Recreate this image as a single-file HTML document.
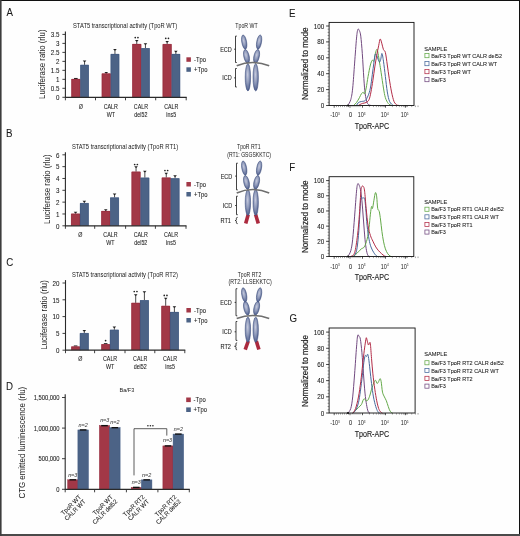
<!DOCTYPE html><html><head><meta charset="utf-8"><style>html,body{margin:0;padding:0;background:#fff}body{width:520px;height:536px;overflow:hidden;position:relative}svg{position:absolute;left:0;top:0;will-change:transform}text{font-family:"Liberation Sans",sans-serif}</style></head><body>
<svg width="520" height="536" viewBox="0 0 520 536">
<defs>
<radialGradient id="rg" cx="0.45" cy="0.4" r="0.62"><stop offset="0" stop-color="#c6cadd"/><stop offset="0.5" stop-color="#8f9aba"/><stop offset="1" stop-color="#4a5a8a"/></radialGradient>
</defs>
<rect x="0" y="0" width="520" height="536" fill="#fefefe"/>
<text transform="translate(6.60 16.20) scale(0.86 1)" x="0" y="0" font-size="11.3" text-anchor="start" fill="#1a1a1a" stroke="#1a1a1a" stroke-width="0.07" >A</text>
<text transform="translate(6.00 136.90) scale(0.86 1)" x="0" y="0" font-size="11.3" text-anchor="start" fill="#1a1a1a" stroke="#1a1a1a" stroke-width="0.07" >B</text>
<text transform="translate(6.20 265.50) scale(0.86 1)" x="0" y="0" font-size="11.3" text-anchor="start" fill="#1a1a1a" stroke="#1a1a1a" stroke-width="0.07" >C</text>
<text transform="translate(6.00 389.70) scale(0.86 1)" x="0" y="0" font-size="11.3" text-anchor="start" fill="#1a1a1a" stroke="#1a1a1a" stroke-width="0.07" >D</text>
<text transform="translate(289.10 16.50) scale(0.86 1)" x="0" y="0" font-size="11.3" text-anchor="start" fill="#1a1a1a" stroke="#1a1a1a" stroke-width="0.07" >E</text>
<text transform="translate(289.30 171.00) scale(0.86 1)" x="0" y="0" font-size="11.3" text-anchor="start" fill="#1a1a1a" stroke="#1a1a1a" stroke-width="0.07" >F</text>
<text transform="translate(289.50 322.30) scale(0.86 1)" x="0" y="0" font-size="11.3" text-anchor="start" fill="#1a1a1a" stroke="#1a1a1a" stroke-width="0.07" >G</text>
<line x1="65.40" y1="31.50" x2="65.40" y2="97.80" stroke="#2a2a2a" stroke-width="1.1"/>
<line x1="62.40" y1="97.30" x2="65.40" y2="97.30" stroke="#2a2a2a" stroke-width="0.9"/>
<text transform="translate(59.40 100.05) scale(0.8 1)" x="0" y="0" font-size="7.8" text-anchor="end" fill="#1a1a1a" stroke="#1a1a1a" stroke-width="0.07" >0</text>
<line x1="62.40" y1="88.31" x2="65.40" y2="88.31" stroke="#2a2a2a" stroke-width="0.9"/>
<text transform="translate(59.40 91.06) scale(0.8 1)" x="0" y="0" font-size="7.8" text-anchor="end" fill="#1a1a1a" stroke="#1a1a1a" stroke-width="0.07" >0.5</text>
<line x1="62.40" y1="79.33" x2="65.40" y2="79.33" stroke="#2a2a2a" stroke-width="0.9"/>
<text transform="translate(59.40 82.08) scale(0.8 1)" x="0" y="0" font-size="7.8" text-anchor="end" fill="#1a1a1a" stroke="#1a1a1a" stroke-width="0.07" >1</text>
<line x1="62.40" y1="70.34" x2="65.40" y2="70.34" stroke="#2a2a2a" stroke-width="0.9"/>
<text transform="translate(59.40 73.09) scale(0.8 1)" x="0" y="0" font-size="7.8" text-anchor="end" fill="#1a1a1a" stroke="#1a1a1a" stroke-width="0.07" >1.5</text>
<line x1="62.40" y1="61.36" x2="65.40" y2="61.36" stroke="#2a2a2a" stroke-width="0.9"/>
<text transform="translate(59.40 64.11) scale(0.8 1)" x="0" y="0" font-size="7.8" text-anchor="end" fill="#1a1a1a" stroke="#1a1a1a" stroke-width="0.07" >2</text>
<line x1="62.40" y1="52.38" x2="65.40" y2="52.38" stroke="#2a2a2a" stroke-width="0.9"/>
<text transform="translate(59.40 55.12) scale(0.8 1)" x="0" y="0" font-size="7.8" text-anchor="end" fill="#1a1a1a" stroke="#1a1a1a" stroke-width="0.07" >2.5</text>
<line x1="62.40" y1="43.39" x2="65.40" y2="43.39" stroke="#2a2a2a" stroke-width="0.9"/>
<text transform="translate(59.40 46.14) scale(0.8 1)" x="0" y="0" font-size="7.8" text-anchor="end" fill="#1a1a1a" stroke="#1a1a1a" stroke-width="0.07" >3</text>
<line x1="62.40" y1="34.41" x2="65.40" y2="34.41" stroke="#2a2a2a" stroke-width="0.9"/>
<text transform="translate(59.40 37.16) scale(0.8 1)" x="0" y="0" font-size="7.8" text-anchor="end" fill="#1a1a1a" stroke="#1a1a1a" stroke-width="0.07" >3.5</text>
<line x1="74.05" y1="78.50" x2="77.65" y2="78.50" stroke="#222" stroke-width="1.1"/>
<line x1="84.55" y1="64.90" x2="84.55" y2="61.00" stroke="#333" stroke-width="0.9"/>
<path d="M82.75,60.40 H86.35 L85.05,61.90 H84.05 Z" fill="#222"/>
<rect x="71.40" y="79.00" width="8.90" height="18.30" fill="#A23847"/>
<rect x="80.30" y="64.90" width="8.50" height="32.40" fill="#4C6386"/>
<path d="M71.70,97.30 V79.30 H80.00 V97.30" fill="none" stroke="#96283b" stroke-width="0.6"/>
<path d="M80.60,97.30 V65.20 H88.50 V97.30" fill="none" stroke="#3e5781" stroke-width="0.6"/>
<line x1="106.25" y1="73.50" x2="106.25" y2="72.50" stroke="#333" stroke-width="0.9"/>
<path d="M104.45,71.90 H108.05 L106.75,73.40 H105.75 Z" fill="#222"/>
<line x1="114.95" y1="54.00" x2="114.95" y2="49.70" stroke="#333" stroke-width="0.9"/>
<path d="M113.15,49.10 H116.75 L115.45,50.60 H114.45 Z" fill="#222"/>
<rect x="101.80" y="73.50" width="8.90" height="23.80" fill="#A23847"/>
<rect x="110.70" y="54.00" width="8.50" height="43.30" fill="#4C6386"/>
<path d="M102.10,97.30 V73.80 H110.40 V97.30" fill="none" stroke="#96283b" stroke-width="0.6"/>
<path d="M111.00,97.30 V54.30 H118.90 V97.30" fill="none" stroke="#3e5781" stroke-width="0.6"/>
<line x1="136.75" y1="44.00" x2="136.75" y2="40.50" stroke="#333" stroke-width="0.9"/>
<path d="M134.95,39.90 H138.55 L137.25,41.40 H136.25 Z" fill="#222"/>
<line x1="145.45" y1="48.20" x2="145.45" y2="43.80" stroke="#333" stroke-width="0.9"/>
<path d="M143.65,43.20 H147.25 L145.95,44.70 H144.95 Z" fill="#222"/>
<rect x="132.30" y="44.00" width="8.90" height="53.30" fill="#A23847"/>
<rect x="141.20" y="48.20" width="8.50" height="49.10" fill="#4C6386"/>
<path d="M132.60,97.30 V44.30 H140.90 V97.30" fill="none" stroke="#96283b" stroke-width="0.6"/>
<path d="M141.50,97.30 V48.50 H149.40 V97.30" fill="none" stroke="#3e5781" stroke-width="0.6"/>
<line x1="167.15" y1="44.10" x2="167.15" y2="41.60" stroke="#333" stroke-width="0.9"/>
<path d="M165.35,41.00 H168.95 L167.65,42.50 H166.65 Z" fill="#222"/>
<line x1="175.85" y1="54.00" x2="175.85" y2="51.40" stroke="#333" stroke-width="0.9"/>
<path d="M174.05,50.80 H177.65 L176.35,52.30 H175.35 Z" fill="#222"/>
<rect x="162.70" y="44.10" width="8.90" height="53.20" fill="#A23847"/>
<rect x="171.60" y="54.00" width="8.50" height="43.30" fill="#4C6386"/>
<path d="M163.00,97.30 V44.40 H171.30 V97.30" fill="none" stroke="#96283b" stroke-width="0.6"/>
<path d="M171.90,97.30 V54.30 H179.80 V97.30" fill="none" stroke="#3e5781" stroke-width="0.6"/>
<line x1="65.40" y1="97.30" x2="186.70" y2="97.30" stroke="#2a2a2a" stroke-width="1.2"/>
<line x1="65.40" y1="97.30" x2="65.40" y2="100.30" stroke="#2a2a2a" stroke-width="0.9"/>
<line x1="95.50" y1="97.30" x2="95.50" y2="100.30" stroke="#2a2a2a" stroke-width="0.9"/>
<line x1="125.50" y1="97.30" x2="125.50" y2="100.30" stroke="#2a2a2a" stroke-width="0.9"/>
<line x1="155.70" y1="97.30" x2="155.70" y2="100.30" stroke="#2a2a2a" stroke-width="0.9"/>
<line x1="186.20" y1="97.30" x2="186.20" y2="100.30" stroke="#2a2a2a" stroke-width="0.9"/>
<circle cx="135.25" cy="37.60" r="0.85" fill="#222"/>
<circle cx="137.95" cy="37.60" r="0.85" fill="#222"/>
<circle cx="165.75" cy="38.30" r="0.85" fill="#222"/>
<circle cx="168.45" cy="38.30" r="0.85" fill="#222"/>
<text transform="translate(80.75 108.80) scale(0.81 1)" x="0" y="0" font-size="6.6" text-anchor="middle" fill="#1a1a1a" stroke="#1a1a1a" stroke-width="0.07" >&#216;</text>
<text transform="translate(110.80 108.80) scale(0.81 1)" x="0" y="0" font-size="6.6" text-anchor="middle" fill="#1a1a1a" stroke="#1a1a1a" stroke-width="0.07" >CALR</text>
<text transform="translate(110.80 116.80) scale(0.81 1)" x="0" y="0" font-size="6.6" text-anchor="middle" fill="#1a1a1a" stroke="#1a1a1a" stroke-width="0.07" >WT</text>
<text transform="translate(140.90 108.80) scale(0.81 1)" x="0" y="0" font-size="6.6" text-anchor="middle" fill="#1a1a1a" stroke="#1a1a1a" stroke-width="0.07" >CALR</text>
<text transform="translate(140.90 116.80) scale(0.81 1)" x="0" y="0" font-size="6.6" text-anchor="middle" fill="#1a1a1a" stroke="#1a1a1a" stroke-width="0.07" >del52</text>
<text transform="translate(171.25 108.80) scale(0.81 1)" x="0" y="0" font-size="6.6" text-anchor="middle" fill="#1a1a1a" stroke="#1a1a1a" stroke-width="0.07" >CALR</text>
<text transform="translate(171.25 116.80) scale(0.81 1)" x="0" y="0" font-size="6.6" text-anchor="middle" fill="#1a1a1a" stroke="#1a1a1a" stroke-width="0.07" >ins5</text>
<text x="73.00" y="27.60" font-size="6.3" text-anchor="start" fill="#1a1a1a" textLength="104.3" lengthAdjust="spacingAndGlyphs" >STAT5 transcriptional activity (TpoR WT)</text>
<g transform="translate(45.20,64.20) rotate(-90)"><text x="0" y="0" font-size="8.6" fill="#222" text-anchor="middle" textLength="69.4" lengthAdjust="spacingAndGlyphs">Luciferase ratio (rlu)</text></g>
<rect x="186.40" y="57.30" width="4.50" height="4.50" fill="#A23847"/>
<text transform="translate(194.00 61.90) scale(0.93 1)" x="0" y="0" font-size="6.3" text-anchor="start" fill="#1a1a1a" stroke="#1a1a1a" stroke-width="0.07" >-Tpo</text>
<rect x="186.40" y="67.30" width="4.50" height="4.50" fill="#4C6386"/>
<text transform="translate(194.00 71.90) scale(0.93 1)" x="0" y="0" font-size="6.3" text-anchor="start" fill="#1a1a1a" stroke="#1a1a1a" stroke-width="0.07" >+Tpo</text>
<line x1="65.40" y1="152.30" x2="65.40" y2="226.30" stroke="#2a2a2a" stroke-width="1.1"/>
<line x1="62.40" y1="225.80" x2="65.40" y2="225.80" stroke="#2a2a2a" stroke-width="0.9"/>
<text transform="translate(59.40 228.55) scale(0.8 1)" x="0" y="0" font-size="7.8" text-anchor="end" fill="#1a1a1a" stroke="#1a1a1a" stroke-width="0.07" >0</text>
<line x1="62.40" y1="213.97" x2="65.40" y2="213.97" stroke="#2a2a2a" stroke-width="0.9"/>
<text transform="translate(59.40 216.72) scale(0.8 1)" x="0" y="0" font-size="7.8" text-anchor="end" fill="#1a1a1a" stroke="#1a1a1a" stroke-width="0.07" >1</text>
<line x1="62.40" y1="202.14" x2="65.40" y2="202.14" stroke="#2a2a2a" stroke-width="0.9"/>
<text transform="translate(59.40 204.89) scale(0.8 1)" x="0" y="0" font-size="7.8" text-anchor="end" fill="#1a1a1a" stroke="#1a1a1a" stroke-width="0.07" >2</text>
<line x1="62.40" y1="190.31" x2="65.40" y2="190.31" stroke="#2a2a2a" stroke-width="0.9"/>
<text transform="translate(59.40 193.06) scale(0.8 1)" x="0" y="0" font-size="7.8" text-anchor="end" fill="#1a1a1a" stroke="#1a1a1a" stroke-width="0.07" >3</text>
<line x1="62.40" y1="178.48" x2="65.40" y2="178.48" stroke="#2a2a2a" stroke-width="0.9"/>
<text transform="translate(59.40 181.23) scale(0.8 1)" x="0" y="0" font-size="7.8" text-anchor="end" fill="#1a1a1a" stroke="#1a1a1a" stroke-width="0.07" >4</text>
<line x1="62.40" y1="166.65" x2="65.40" y2="166.65" stroke="#2a2a2a" stroke-width="0.9"/>
<text transform="translate(59.40 169.40) scale(0.8 1)" x="0" y="0" font-size="7.8" text-anchor="end" fill="#1a1a1a" stroke="#1a1a1a" stroke-width="0.07" >5</text>
<line x1="62.40" y1="154.82" x2="65.40" y2="154.82" stroke="#2a2a2a" stroke-width="0.9"/>
<text transform="translate(59.40 157.57) scale(0.8 1)" x="0" y="0" font-size="7.8" text-anchor="end" fill="#1a1a1a" stroke="#1a1a1a" stroke-width="0.07" >6</text>
<line x1="75.55" y1="213.70" x2="75.55" y2="212.40" stroke="#333" stroke-width="0.9"/>
<path d="M73.75,211.80 H77.35 L76.05,213.30 H75.05 Z" fill="#222"/>
<line x1="84.35" y1="203.10" x2="84.35" y2="201.30" stroke="#333" stroke-width="0.9"/>
<path d="M82.55,200.70 H86.15 L84.85,202.20 H83.85 Z" fill="#222"/>
<rect x="71.10" y="213.70" width="8.90" height="12.10" fill="#A23847"/>
<rect x="80.00" y="203.10" width="8.70" height="22.70" fill="#4C6386"/>
<path d="M71.40,225.80 V214.00 H79.70 V225.80" fill="none" stroke="#96283b" stroke-width="0.6"/>
<path d="M80.30,225.80 V203.40 H88.40 V225.80" fill="none" stroke="#3e5781" stroke-width="0.6"/>
<line x1="105.75" y1="211.00" x2="105.75" y2="209.80" stroke="#333" stroke-width="0.9"/>
<path d="M103.95,209.20 H107.55 L106.25,210.70 H105.25 Z" fill="#222"/>
<line x1="114.55" y1="197.50" x2="114.55" y2="194.00" stroke="#333" stroke-width="0.9"/>
<path d="M112.75,193.40 H116.35 L115.05,194.90 H114.05 Z" fill="#222"/>
<rect x="101.30" y="211.00" width="8.90" height="14.80" fill="#A23847"/>
<rect x="110.20" y="197.50" width="8.70" height="28.30" fill="#4C6386"/>
<path d="M101.60,225.80 V211.30 H109.90 V225.80" fill="none" stroke="#96283b" stroke-width="0.6"/>
<path d="M110.50,225.80 V197.80 H118.60 V225.80" fill="none" stroke="#3e5781" stroke-width="0.6"/>
<line x1="136.05" y1="171.70" x2="136.05" y2="166.90" stroke="#333" stroke-width="0.9"/>
<path d="M134.25,166.30 H137.85 L136.55,167.80 H135.55 Z" fill="#222"/>
<line x1="144.85" y1="177.70" x2="144.85" y2="171.30" stroke="#333" stroke-width="0.9"/>
<path d="M143.05,170.70 H146.65 L145.35,172.20 H144.35 Z" fill="#222"/>
<rect x="131.60" y="171.70" width="8.90" height="54.10" fill="#A23847"/>
<rect x="140.50" y="177.70" width="8.70" height="48.10" fill="#4C6386"/>
<path d="M131.90,225.80 V172.00 H140.20 V225.80" fill="none" stroke="#96283b" stroke-width="0.6"/>
<path d="M140.80,225.80 V178.00 H148.90 V225.80" fill="none" stroke="#3e5781" stroke-width="0.6"/>
<line x1="166.25" y1="177.60" x2="166.25" y2="173.40" stroke="#333" stroke-width="0.9"/>
<path d="M164.45,172.80 H168.05 L166.75,174.30 H165.75 Z" fill="#222"/>
<line x1="175.05" y1="178.30" x2="175.05" y2="175.90" stroke="#333" stroke-width="0.9"/>
<path d="M173.25,175.30 H176.85 L175.55,176.80 H174.55 Z" fill="#222"/>
<rect x="161.80" y="177.60" width="8.90" height="48.20" fill="#A23847"/>
<rect x="170.70" y="178.30" width="8.70" height="47.50" fill="#4C6386"/>
<path d="M162.10,225.80 V177.90 H170.40 V225.80" fill="none" stroke="#96283b" stroke-width="0.6"/>
<path d="M171.00,225.80 V178.60 H179.10 V225.80" fill="none" stroke="#3e5781" stroke-width="0.6"/>
<line x1="65.40" y1="225.80" x2="186.50" y2="225.80" stroke="#2a2a2a" stroke-width="1.2"/>
<line x1="65.40" y1="225.80" x2="65.40" y2="228.80" stroke="#2a2a2a" stroke-width="0.9"/>
<line x1="94.70" y1="225.80" x2="94.70" y2="228.80" stroke="#2a2a2a" stroke-width="0.9"/>
<line x1="125.60" y1="225.80" x2="125.60" y2="228.80" stroke="#2a2a2a" stroke-width="0.9"/>
<line x1="155.40" y1="225.80" x2="155.40" y2="228.80" stroke="#2a2a2a" stroke-width="0.9"/>
<line x1="186.00" y1="225.80" x2="186.00" y2="228.80" stroke="#2a2a2a" stroke-width="0.9"/>
<circle cx="134.65" cy="164.50" r="0.85" fill="#222"/>
<circle cx="137.35" cy="164.50" r="0.85" fill="#222"/>
<circle cx="164.95" cy="170.50" r="0.85" fill="#222"/>
<circle cx="167.65" cy="170.50" r="0.85" fill="#222"/>
<text transform="translate(80.35 237.00) scale(0.81 1)" x="0" y="0" font-size="6.6" text-anchor="middle" fill="#1a1a1a" stroke="#1a1a1a" stroke-width="0.07" >&#216;</text>
<text transform="translate(110.45 237.00) scale(0.81 1)" x="0" y="0" font-size="6.6" text-anchor="middle" fill="#1a1a1a" stroke="#1a1a1a" stroke-width="0.07" >CALR</text>
<text transform="translate(110.45 245.00) scale(0.81 1)" x="0" y="0" font-size="6.6" text-anchor="middle" fill="#1a1a1a" stroke="#1a1a1a" stroke-width="0.07" >WT</text>
<text transform="translate(140.80 237.00) scale(0.81 1)" x="0" y="0" font-size="6.6" text-anchor="middle" fill="#1a1a1a" stroke="#1a1a1a" stroke-width="0.07" >CALR</text>
<text transform="translate(140.80 245.00) scale(0.81 1)" x="0" y="0" font-size="6.6" text-anchor="middle" fill="#1a1a1a" stroke="#1a1a1a" stroke-width="0.07" >del52</text>
<text transform="translate(171.00 237.00) scale(0.81 1)" x="0" y="0" font-size="6.6" text-anchor="middle" fill="#1a1a1a" stroke="#1a1a1a" stroke-width="0.07" >CALR</text>
<text transform="translate(171.00 245.00) scale(0.81 1)" x="0" y="0" font-size="6.6" text-anchor="middle" fill="#1a1a1a" stroke="#1a1a1a" stroke-width="0.07" >ins5</text>
<text x="71.90" y="148.50" font-size="6.3" text-anchor="start" fill="#1a1a1a" textLength="106.2" lengthAdjust="spacingAndGlyphs" >STAT5 transcriptional activity (TpoR RT1)</text>
<g transform="translate(50.40,189.20) rotate(-90)"><text x="0" y="0" font-size="8.6" fill="#222" text-anchor="middle" textLength="69.4" lengthAdjust="spacingAndGlyphs">Luciferase ratio (rlu)</text></g>
<rect x="186.40" y="182.00" width="4.50" height="4.50" fill="#A23847"/>
<text transform="translate(194.00 186.60) scale(0.93 1)" x="0" y="0" font-size="6.3" text-anchor="start" fill="#1a1a1a" stroke="#1a1a1a" stroke-width="0.07" >-Tpo</text>
<rect x="186.40" y="192.00" width="4.50" height="4.50" fill="#4C6386"/>
<text transform="translate(194.00 196.60) scale(0.93 1)" x="0" y="0" font-size="6.3" text-anchor="start" fill="#1a1a1a" stroke="#1a1a1a" stroke-width="0.07" >+Tpo</text>
<line x1="65.50" y1="280.10" x2="65.50" y2="350.70" stroke="#2a2a2a" stroke-width="1.1"/>
<line x1="62.50" y1="350.20" x2="65.50" y2="350.20" stroke="#2a2a2a" stroke-width="0.9"/>
<text transform="translate(59.50 352.95) scale(0.8 1)" x="0" y="0" font-size="7.8" text-anchor="end" fill="#1a1a1a" stroke="#1a1a1a" stroke-width="0.07" >0</text>
<line x1="62.50" y1="333.40" x2="65.50" y2="333.40" stroke="#2a2a2a" stroke-width="0.9"/>
<text transform="translate(59.50 336.15) scale(0.8 1)" x="0" y="0" font-size="7.8" text-anchor="end" fill="#1a1a1a" stroke="#1a1a1a" stroke-width="0.07" >5</text>
<line x1="62.50" y1="316.60" x2="65.50" y2="316.60" stroke="#2a2a2a" stroke-width="0.9"/>
<text transform="translate(59.50 319.35) scale(0.8 1)" x="0" y="0" font-size="7.8" text-anchor="end" fill="#1a1a1a" stroke="#1a1a1a" stroke-width="0.07" >10</text>
<line x1="62.50" y1="299.80" x2="65.50" y2="299.80" stroke="#2a2a2a" stroke-width="0.9"/>
<text transform="translate(59.50 302.55) scale(0.8 1)" x="0" y="0" font-size="7.8" text-anchor="end" fill="#1a1a1a" stroke="#1a1a1a" stroke-width="0.07" >15</text>
<line x1="62.50" y1="283.00" x2="65.50" y2="283.00" stroke="#2a2a2a" stroke-width="0.9"/>
<text transform="translate(59.50 285.75) scale(0.8 1)" x="0" y="0" font-size="7.8" text-anchor="end" fill="#1a1a1a" stroke="#1a1a1a" stroke-width="0.07" >20</text>
<line x1="73.80" y1="346.00" x2="77.40" y2="346.00" stroke="#222" stroke-width="1.1"/>
<line x1="84.30" y1="333.10" x2="84.30" y2="330.50" stroke="#333" stroke-width="0.9"/>
<path d="M82.50,329.90 H86.10 L84.80,331.40 H83.80 Z" fill="#222"/>
<rect x="71.30" y="346.50" width="8.60" height="3.70" fill="#A23847"/>
<rect x="79.90" y="333.10" width="8.80" height="17.10" fill="#4C6386"/>
<path d="M71.60,350.20 V346.80 H79.60 V350.20" fill="none" stroke="#96283b" stroke-width="0.6"/>
<path d="M80.20,350.20 V333.40 H88.40 V350.20" fill="none" stroke="#3e5781" stroke-width="0.6"/>
<line x1="103.85" y1="343.70" x2="107.45" y2="343.70" stroke="#222" stroke-width="1.1"/>
<line x1="114.35" y1="329.80" x2="114.35" y2="327.00" stroke="#333" stroke-width="0.9"/>
<path d="M112.55,326.40 H116.15 L114.85,327.90 H113.85 Z" fill="#222"/>
<rect x="101.35" y="344.20" width="8.60" height="6.00" fill="#A23847"/>
<rect x="109.95" y="329.80" width="8.80" height="20.40" fill="#4C6386"/>
<path d="M101.65,350.20 V344.50 H109.65 V350.20" fill="none" stroke="#96283b" stroke-width="0.6"/>
<path d="M110.25,350.20 V330.10 H118.45 V350.20" fill="none" stroke="#3e5781" stroke-width="0.6"/>
<line x1="135.70" y1="302.90" x2="135.70" y2="294.80" stroke="#333" stroke-width="0.9"/>
<path d="M133.90,294.20 H137.50 L136.20,295.70 H135.20 Z" fill="#222"/>
<line x1="144.40" y1="300.20" x2="144.40" y2="291.90" stroke="#333" stroke-width="0.9"/>
<path d="M142.60,291.30 H146.20 L144.90,292.80 H143.90 Z" fill="#222"/>
<rect x="131.40" y="302.90" width="8.60" height="47.30" fill="#A23847"/>
<rect x="140.00" y="300.20" width="8.80" height="50.00" fill="#4C6386"/>
<path d="M131.70,350.20 V303.20 H139.70 V350.20" fill="none" stroke="#96283b" stroke-width="0.6"/>
<path d="M140.30,350.20 V300.50 H148.50 V350.20" fill="none" stroke="#3e5781" stroke-width="0.6"/>
<line x1="165.70" y1="305.90" x2="165.70" y2="298.30" stroke="#333" stroke-width="0.9"/>
<path d="M163.90,297.70 H167.50 L166.20,299.20 H165.20 Z" fill="#222"/>
<line x1="174.40" y1="312.00" x2="174.40" y2="306.80" stroke="#333" stroke-width="0.9"/>
<path d="M172.60,306.20 H176.20 L174.90,307.70 H173.90 Z" fill="#222"/>
<rect x="161.40" y="305.90" width="8.60" height="44.30" fill="#A23847"/>
<rect x="170.00" y="312.00" width="8.80" height="38.20" fill="#4C6386"/>
<path d="M161.70,350.20 V306.20 H169.70 V350.20" fill="none" stroke="#96283b" stroke-width="0.6"/>
<path d="M170.30,350.20 V312.30 H178.50 V350.20" fill="none" stroke="#3e5781" stroke-width="0.6"/>
<line x1="65.50" y1="350.20" x2="185.30" y2="350.20" stroke="#2a2a2a" stroke-width="1.2"/>
<line x1="65.50" y1="350.20" x2="65.50" y2="353.20" stroke="#2a2a2a" stroke-width="0.9"/>
<line x1="94.60" y1="350.20" x2="94.60" y2="353.20" stroke="#2a2a2a" stroke-width="0.9"/>
<line x1="125.00" y1="350.20" x2="125.00" y2="353.20" stroke="#2a2a2a" stroke-width="0.9"/>
<line x1="154.80" y1="350.20" x2="154.80" y2="353.20" stroke="#2a2a2a" stroke-width="0.9"/>
<line x1="184.80" y1="350.20" x2="184.80" y2="353.20" stroke="#2a2a2a" stroke-width="0.9"/>
<circle cx="105.60" cy="340.60" r="0.85" fill="#222"/>
<circle cx="134.25" cy="291.50" r="0.85" fill="#222"/>
<circle cx="136.95" cy="291.50" r="0.85" fill="#222"/>
<circle cx="164.25" cy="295.40" r="0.85" fill="#222"/>
<circle cx="166.95" cy="295.40" r="0.85" fill="#222"/>
<text transform="translate(80.35 361.20) scale(0.81 1)" x="0" y="0" font-size="6.6" text-anchor="middle" fill="#1a1a1a" stroke="#1a1a1a" stroke-width="0.07" >&#216;</text>
<text transform="translate(110.10 361.20) scale(0.81 1)" x="0" y="0" font-size="6.6" text-anchor="middle" fill="#1a1a1a" stroke="#1a1a1a" stroke-width="0.07" >CALR</text>
<text transform="translate(110.10 369.20) scale(0.81 1)" x="0" y="0" font-size="6.6" text-anchor="middle" fill="#1a1a1a" stroke="#1a1a1a" stroke-width="0.07" >WT</text>
<text transform="translate(140.20 361.20) scale(0.81 1)" x="0" y="0" font-size="6.6" text-anchor="middle" fill="#1a1a1a" stroke="#1a1a1a" stroke-width="0.07" >CALR</text>
<text transform="translate(140.20 369.20) scale(0.81 1)" x="0" y="0" font-size="6.6" text-anchor="middle" fill="#1a1a1a" stroke="#1a1a1a" stroke-width="0.07" >del52</text>
<text transform="translate(170.10 361.20) scale(0.81 1)" x="0" y="0" font-size="6.6" text-anchor="middle" fill="#1a1a1a" stroke="#1a1a1a" stroke-width="0.07" >CALR</text>
<text transform="translate(170.10 369.20) scale(0.81 1)" x="0" y="0" font-size="6.6" text-anchor="middle" fill="#1a1a1a" stroke="#1a1a1a" stroke-width="0.07" >ins5</text>
<text x="71.90" y="276.90" font-size="6.3" text-anchor="start" fill="#1a1a1a" textLength="106" lengthAdjust="spacingAndGlyphs" >STAT5 transcriptional activity (TpoR RT2)</text>
<g transform="translate(47.00,314.90) rotate(-90)"><text x="0" y="0" font-size="8.6" fill="#222" text-anchor="middle" textLength="69.4" lengthAdjust="spacingAndGlyphs">Luciferase ratio (rlu)</text></g>
<rect x="186.40" y="308.00" width="4.50" height="4.50" fill="#A23847"/>
<text transform="translate(194.00 312.60) scale(0.93 1)" x="0" y="0" font-size="6.3" text-anchor="start" fill="#1a1a1a" stroke="#1a1a1a" stroke-width="0.07" >-Tpo</text>
<rect x="186.40" y="318.00" width="4.50" height="4.50" fill="#4C6386"/>
<text transform="translate(194.00 322.60) scale(0.93 1)" x="0" y="0" font-size="6.3" text-anchor="start" fill="#1a1a1a" stroke="#1a1a1a" stroke-width="0.07" >+Tpo</text>
<text x="246.50" y="27.90" font-size="6.4" text-anchor="middle" fill="#1a1a1a" textLength="22.5" lengthAdjust="spacingAndGlyphs" >TpoR WT</text>
<ellipse cx="247.90" cy="77.30" rx="2.7" ry="13.6" transform="rotate(0 247.90 77.30)" fill="url(#rg)" stroke="#3b4c7a" stroke-width="0.55"/>
<ellipse cx="246.50" cy="56.40" rx="2.7" ry="7.0" transform="rotate(-12 246.50 56.40)" fill="url(#rg)" stroke="#3b4c7a" stroke-width="0.55"/>
<ellipse cx="244.20" cy="42.10" rx="2.4" ry="7.2" transform="rotate(-10 244.20 42.10)" fill="url(#rg)" stroke="#3b4c7a" stroke-width="0.55"/>
<ellipse cx="255.70" cy="77.30" rx="2.7" ry="13.6" transform="rotate(0 255.70 77.30)" fill="url(#rg)" stroke="#3b4c7a" stroke-width="0.55"/>
<ellipse cx="256.60" cy="56.40" rx="2.7" ry="7.0" transform="rotate(12 256.60 56.40)" fill="url(#rg)" stroke="#3b4c7a" stroke-width="0.55"/>
<ellipse cx="259.10" cy="42.10" rx="2.4" ry="7.2" transform="rotate(10 259.10 42.10)" fill="url(#rg)" stroke="#3b4c7a" stroke-width="0.55"/>
<path d="M236.7,65.80 Q252.5,59.20 269.2,65.80" fill="none" stroke="#6e6e6e" stroke-width="1.7"/>
<path d="M236.80,36.10 H235.50 V62.50 H236.80 M235.50,49.20 H234.10" fill="none" stroke="#222" stroke-width="0.85"/>
<path d="M236.80,68.50 H235.50 V87.00 H236.80 M235.50,77.90 H234.10" fill="none" stroke="#222" stroke-width="0.85"/>
<text transform="translate(231.80 52.10) scale(0.86 1)" x="0" y="0" font-size="6.4" text-anchor="end" fill="#1a1a1a" stroke="#1a1a1a" stroke-width="0.07" >ECD</text>
<text transform="translate(231.80 80.10) scale(0.86 1)" x="0" y="0" font-size="6.4" text-anchor="end" fill="#1a1a1a" stroke="#1a1a1a" stroke-width="0.07" >ICD</text>
<text x="248.80" y="148.60" font-size="6.4" text-anchor="middle" fill="#1a1a1a" textLength="23.5" lengthAdjust="spacingAndGlyphs" >TpoR RT1</text>
<text x="227.20" y="156.60" font-size="6.4" text-anchor="start" fill="#1a1a1a" textLength="43.8" lengthAdjust="spacingAndGlyphs" >(RT1: GSGSKKTC)</text>
<line x1="248.2" y1="214.5" x2="245.7" y2="223.4" stroke="#ac2a3e" stroke-width="3.6"/>
<ellipse cx="247.90" cy="202.50" rx="2.7" ry="13.0" transform="rotate(0 247.90 202.50)" fill="url(#rg)" stroke="#3b4c7a" stroke-width="0.55"/>
<ellipse cx="246.50" cy="182.40" rx="2.7" ry="7.0" transform="rotate(-12 246.50 182.40)" fill="url(#rg)" stroke="#3b4c7a" stroke-width="0.55"/>
<ellipse cx="244.20" cy="168.10" rx="2.4" ry="7.2" transform="rotate(-10 244.20 168.10)" fill="url(#rg)" stroke="#3b4c7a" stroke-width="0.55"/>
<line x1="255.6" y1="214.5" x2="258.3" y2="223.4" stroke="#ac2a3e" stroke-width="3.6"/>
<ellipse cx="255.70" cy="202.50" rx="2.7" ry="13.0" transform="rotate(0 255.70 202.50)" fill="url(#rg)" stroke="#3b4c7a" stroke-width="0.55"/>
<ellipse cx="256.60" cy="182.40" rx="2.7" ry="7.0" transform="rotate(12 256.60 182.40)" fill="url(#rg)" stroke="#3b4c7a" stroke-width="0.55"/>
<ellipse cx="259.10" cy="168.10" rx="2.4" ry="7.2" transform="rotate(10 259.10 168.10)" fill="url(#rg)" stroke="#3b4c7a" stroke-width="0.55"/>
<path d="M236.7,193.00 Q252.5,186.00 269.2,193.00" fill="none" stroke="#6e6e6e" stroke-width="1.7"/>
<path d="M237.80,163.20 H236.50 V189.90 H237.80 M236.50,176.10 H235.10" fill="none" stroke="#222" stroke-width="0.85"/>
<path d="M237.80,196.20 H236.50 V214.70 H237.80 M236.50,205.50 H235.10" fill="none" stroke="#222" stroke-width="0.85"/>
<path d="M237.50,217.40 C236.20,217.40 236.40,218.30 236.40,219.30 C236.40,220.30 236.00,220.50 235.00,220.50 C236.00,220.50 236.40,220.70 236.40,221.70 C236.40,222.70 236.20,223.60 237.50,223.60" fill="none" stroke="#222" stroke-width="0.95"/>
<text transform="translate(232.30 178.60) scale(0.86 1)" x="0" y="0" font-size="6.4" text-anchor="end" fill="#1a1a1a" stroke="#1a1a1a" stroke-width="0.07" >ECD</text>
<text transform="translate(232.30 207.70) scale(0.86 1)" x="0" y="0" font-size="6.4" text-anchor="end" fill="#1a1a1a" stroke="#1a1a1a" stroke-width="0.07" >ICD</text>
<text transform="translate(231.00 222.80) scale(0.88 1)" x="0" y="0" font-size="6.4" text-anchor="end" fill="#1a1a1a" stroke="#1a1a1a" stroke-width="0.07" >RT1</text>
<text x="249.50" y="277.00" font-size="6.4" text-anchor="middle" fill="#1a1a1a" textLength="23.5" lengthAdjust="spacingAndGlyphs" >TpoR RT2</text>
<text x="228.60" y="284.40" font-size="6.4" text-anchor="start" fill="#1a1a1a" textLength="43.2" lengthAdjust="spacingAndGlyphs" >(RT2: LLSEKKTC)</text>
<line x1="248.3" y1="341" x2="245.2" y2="349.6" stroke="#ac2a3e" stroke-width="3.6"/>
<ellipse cx="247.90" cy="329.70" rx="2.7" ry="12.6" transform="rotate(0 247.90 329.70)" fill="url(#rg)" stroke="#3b4c7a" stroke-width="0.55"/>
<ellipse cx="246.50" cy="308.20" rx="2.7" ry="7.0" transform="rotate(-12 246.50 308.20)" fill="url(#rg)" stroke="#3b4c7a" stroke-width="0.55"/>
<ellipse cx="244.20" cy="294.90" rx="2.4" ry="7.2" transform="rotate(-10 244.20 294.90)" fill="url(#rg)" stroke="#3b4c7a" stroke-width="0.55"/>
<line x1="256.3" y1="341" x2="258.9" y2="349.6" stroke="#ac2a3e" stroke-width="3.6"/>
<ellipse cx="255.70" cy="329.70" rx="2.7" ry="12.6" transform="rotate(0 255.70 329.70)" fill="url(#rg)" stroke="#3b4c7a" stroke-width="0.55"/>
<ellipse cx="256.60" cy="308.20" rx="2.7" ry="7.0" transform="rotate(12 256.60 308.20)" fill="url(#rg)" stroke="#3b4c7a" stroke-width="0.55"/>
<ellipse cx="259.10" cy="294.90" rx="2.4" ry="7.2" transform="rotate(10 259.10 294.90)" fill="url(#rg)" stroke="#3b4c7a" stroke-width="0.55"/>
<path d="M236.7,318.50 Q252.5,312.50 269.2,318.50" fill="none" stroke="#6e6e6e" stroke-width="1.7"/>
<path d="M237.30,288.70 H236.00 V315.80 H237.30 M236.00,302.40 H234.60" fill="none" stroke="#222" stroke-width="0.85"/>
<path d="M237.30,321.50 H236.00 V340.40 H237.30 M236.00,331.80 H234.60" fill="none" stroke="#222" stroke-width="0.85"/>
<path d="M237.10,342.80 C235.80,342.80 236.00,343.70 236.00,345.10 C236.00,346.10 235.60,346.30 234.60,346.30 C235.60,346.30 236.00,346.50 236.00,347.50 C236.00,348.90 235.80,349.80 237.10,349.80" fill="none" stroke="#222" stroke-width="0.95"/>
<text transform="translate(231.80 304.60) scale(0.86 1)" x="0" y="0" font-size="6.4" text-anchor="end" fill="#1a1a1a" stroke="#1a1a1a" stroke-width="0.07" >ECD</text>
<text transform="translate(231.80 334.00) scale(0.86 1)" x="0" y="0" font-size="6.4" text-anchor="end" fill="#1a1a1a" stroke="#1a1a1a" stroke-width="0.07" >ICD</text>
<text transform="translate(231.00 348.70) scale(0.88 1)" x="0" y="0" font-size="6.4" text-anchor="end" fill="#1a1a1a" stroke="#1a1a1a" stroke-width="0.07" >RT2</text>
<line x1="65.20" y1="394.20" x2="65.20" y2="489.80" stroke="#2a2a2a" stroke-width="1.1"/>
<line x1="62.00" y1="489.30" x2="65.20" y2="489.30" stroke="#2a2a2a" stroke-width="0.9"/>
<text transform="translate(59.60 491.70) scale(0.86 1)" x="0" y="0" font-size="6.8" text-anchor="end" fill="#1a1a1a" stroke="#1a1a1a" stroke-width="0.07" >0</text>
<line x1="62.00" y1="458.70" x2="65.20" y2="458.70" stroke="#2a2a2a" stroke-width="0.9"/>
<text transform="translate(59.60 461.10) scale(0.86 1)" x="0" y="0" font-size="6.8" text-anchor="end" fill="#1a1a1a" stroke="#1a1a1a" stroke-width="0.07" >500,000</text>
<line x1="62.00" y1="428.10" x2="65.20" y2="428.10" stroke="#2a2a2a" stroke-width="0.9"/>
<text transform="translate(59.60 430.50) scale(0.86 1)" x="0" y="0" font-size="6.8" text-anchor="end" fill="#1a1a1a" stroke="#1a1a1a" stroke-width="0.07" >1,000,000</text>
<line x1="62.00" y1="397.50" x2="65.20" y2="397.50" stroke="#2a2a2a" stroke-width="0.9"/>
<text transform="translate(59.60 399.90) scale(0.86 1)" x="0" y="0" font-size="6.8" text-anchor="end" fill="#1a1a1a" stroke="#1a1a1a" stroke-width="0.07" >1,500,000</text>
<rect x="67.70" y="479.81" width="10.20" height="9.49" fill="#A23847" stroke="#94263a" stroke-width="0.5"/>
<rect x="77.90" y="429.94" width="10.50" height="59.36" fill="#4C6386" stroke="#3d5680" stroke-width="0.5"/>
<line x1="69.50" y1="479.81" x2="76.10" y2="479.81" stroke="#111" stroke-width="1.4"/>
<line x1="79.85" y1="429.94" x2="86.45" y2="429.94" stroke="#111" stroke-width="1.4"/>
<rect x="99.40" y="425.65" width="10.20" height="63.65" fill="#A23847" stroke="#94263a" stroke-width="0.5"/>
<rect x="109.60" y="427.67" width="10.50" height="61.63" fill="#4C6386" stroke="#3d5680" stroke-width="0.5"/>
<line x1="101.20" y1="425.65" x2="107.80" y2="425.65" stroke="#111" stroke-width="1.4"/>
<line x1="111.55" y1="427.67" x2="118.15" y2="427.67" stroke="#111" stroke-width="1.4"/>
<rect x="131.20" y="487.40" width="10.20" height="1.90" fill="#A23847" stroke="#94263a" stroke-width="0.5"/>
<rect x="141.40" y="479.88" width="10.50" height="9.42" fill="#4C6386" stroke="#3d5680" stroke-width="0.5"/>
<line x1="133.00" y1="487.40" x2="139.60" y2="487.40" stroke="#111" stroke-width="1.4"/>
<line x1="143.35" y1="479.88" x2="149.95" y2="479.88" stroke="#111" stroke-width="1.4"/>
<rect x="162.90" y="445.91" width="10.20" height="43.39" fill="#A23847" stroke="#94263a" stroke-width="0.5"/>
<rect x="173.10" y="434.10" width="10.50" height="55.20" fill="#4C6386" stroke="#3d5680" stroke-width="0.5"/>
<line x1="164.70" y1="445.91" x2="171.30" y2="445.91" stroke="#111" stroke-width="1.4"/>
<line x1="175.05" y1="434.10" x2="181.65" y2="434.10" stroke="#111" stroke-width="1.4"/>
<line x1="65.20" y1="489.30" x2="189.80" y2="489.30" stroke="#2a2a2a" stroke-width="1.2"/>
<line x1="65.20" y1="489.30" x2="65.20" y2="492.30" stroke="#2a2a2a" stroke-width="0.9"/>
<line x1="94.60" y1="489.30" x2="94.60" y2="492.30" stroke="#2a2a2a" stroke-width="0.9"/>
<line x1="126.40" y1="489.30" x2="126.40" y2="492.30" stroke="#2a2a2a" stroke-width="0.9"/>
<line x1="157.90" y1="489.30" x2="157.90" y2="492.30" stroke="#2a2a2a" stroke-width="0.9"/>
<line x1="189.30" y1="489.30" x2="189.30" y2="492.30" stroke="#2a2a2a" stroke-width="0.9"/>
<text transform="translate(72.70 477.00) scale(0.9 1)" x="0" y="0" font-size="6.0" text-anchor="middle" fill="#444" stroke="#444" stroke-width="0.07" font-style="italic">n=3</text>
<text transform="translate(83.10 426.70) scale(0.9 1)" x="0" y="0" font-size="6.0" text-anchor="middle" fill="#444" stroke="#444" stroke-width="0.07" font-style="italic">n=2</text>
<text transform="translate(104.70 422.30) scale(0.9 1)" x="0" y="0" font-size="6.0" text-anchor="middle" fill="#444" stroke="#444" stroke-width="0.07" font-style="italic">n=3</text>
<text transform="translate(114.90 423.60) scale(0.9 1)" x="0" y="0" font-size="6.0" text-anchor="middle" fill="#444" stroke="#444" stroke-width="0.07" font-style="italic">n=2</text>
<text transform="translate(136.20 484.10) scale(0.9 1)" x="0" y="0" font-size="6.0" text-anchor="middle" fill="#444" stroke="#444" stroke-width="0.07" font-style="italic">n=3</text>
<text transform="translate(146.60 476.60) scale(0.9 1)" x="0" y="0" font-size="6.0" text-anchor="middle" fill="#444" stroke="#444" stroke-width="0.07" font-style="italic">n=2</text>
<text transform="translate(167.50 442.00) scale(0.9 1)" x="0" y="0" font-size="6.0" text-anchor="middle" fill="#444" stroke="#444" stroke-width="0.07" font-style="italic">n=3</text>
<text transform="translate(178.40 431.10) scale(0.9 1)" x="0" y="0" font-size="6.0" text-anchor="middle" fill="#444" stroke="#444" stroke-width="0.07" font-style="italic">n=2</text>
<path d="M134,475.4 V428.7 H166.8 V435.6" fill="none" stroke="#333" stroke-width="0.8"/>
<circle cx="147.90" cy="425.7" r="0.8" fill="#222"/>
<circle cx="150.40" cy="425.7" r="0.8" fill="#222"/>
<circle cx="152.90" cy="425.7" r="0.8" fill="#222"/>
<text x="126.90" y="391.60" font-size="5.6" text-anchor="middle" fill="#1a1a1a" textLength="14.8" lengthAdjust="spacingAndGlyphs" >Ba/F3</text>
<rect x="186.20" y="397.50" width="4.60" height="4.60" fill="#A23847"/>
<text transform="translate(193.60 402.10) scale(0.93 1)" x="0" y="0" font-size="6.3" text-anchor="start" fill="#1a1a1a" stroke="#1a1a1a" stroke-width="0.07" >-Tpo</text>
<rect x="186.20" y="407.40" width="4.60" height="4.60" fill="#4C6386"/>
<text transform="translate(193.60 412.00) scale(0.93 1)" x="0" y="0" font-size="6.3" text-anchor="start" fill="#1a1a1a" stroke="#1a1a1a" stroke-width="0.07" >+Tpo</text>
<g transform="translate(25.3,442.7) rotate(-90)"><text x="0" y="0" font-size="8.4" fill="#222" text-anchor="middle" textLength="111.8" lengthAdjust="spacingAndGlyphs">CTG emitted luminescence (rlu)</text></g>
<g transform="translate(81.50,497.5) rotate(-45) scale(0.95 1)"><text x="0" y="0" font-size="6.3" fill="#1a1a1a" stroke="#1a1a1a" stroke-width="0.07" text-anchor="end">TpoR WT</text><text x="0" y="6.4" font-size="6.3" fill="#1a1a1a" stroke="#1a1a1a" stroke-width="0.07" text-anchor="end">CALR WT</text></g>
<g transform="translate(113.30,497.5) rotate(-45) scale(0.95 1)"><text x="0" y="0" font-size="6.3" fill="#1a1a1a" stroke="#1a1a1a" stroke-width="0.07" text-anchor="end">TpoR WT</text><text x="0" y="6.4" font-size="6.3" fill="#1a1a1a" stroke="#1a1a1a" stroke-width="0.07" text-anchor="end">CALR del52</text></g>
<g transform="translate(145.00,497.5) rotate(-45) scale(0.95 1)"><text x="0" y="0" font-size="6.3" fill="#1a1a1a" stroke="#1a1a1a" stroke-width="0.07" text-anchor="end">TpoR RT2</text><text x="0" y="6.4" font-size="6.3" fill="#1a1a1a" stroke="#1a1a1a" stroke-width="0.07" text-anchor="end">CALR WT</text></g>
<g transform="translate(176.80,497.5) rotate(-45) scale(0.95 1)"><text x="0" y="0" font-size="6.3" fill="#1a1a1a" stroke="#1a1a1a" stroke-width="0.07" text-anchor="end">TpoR RT2</text><text x="0" y="6.4" font-size="6.3" fill="#1a1a1a" stroke="#1a1a1a" stroke-width="0.07" text-anchor="end">CALR del52</text></g>
<path d="M145,470 C147.5,465.0 155.8,455.0 160,440 C164.2,425.0 166.7,411.7 170,380 C173.3,348.3 176.7,293.3 180,250 C183.3,206.7 187.2,149.2 190,120 C192.8,90.8 194.5,81.3 197,75 C199.5,68.7 202.5,76.2 205,82 C207.5,87.8 209.5,90.3 212,110 C214.5,129.7 217.3,163.3 220,200 C222.7,236.7 225.5,295.0 228,330 C230.5,365.0 232.2,389.2 235,410 C237.8,430.8 241.7,445.3 245,455 C248.3,464.7 251.7,465.5 255,468 C258.3,470.5 263.3,469.7 265,470" transform="translate(320,15) scale(0.19231)" fill="none" stroke="#71497f" stroke-width="1.0" vector-effect="non-scaling-stroke" stroke-linejoin="round"/>
<path d="M175,470 C177.5,467.5 185.0,461.7 190,455 C195.0,448.3 200.8,437.5 205,430 C209.2,422.5 211.7,414.7 215,410 C218.3,405.3 222.2,402.0 225,402 C227.8,402.0 229.5,413.7 232,410 C234.5,406.3 237.0,395.0 240,380 C243.0,365.0 246.3,340.0 250,320 C253.7,300.0 258.3,274.2 262,260 C265.7,245.8 269.0,238.3 272,235 C275.0,231.7 277.3,245.8 280,240 C282.7,234.2 285.3,210.3 288,200 C290.7,189.7 293.7,178.0 296,178 C298.3,178.0 299.7,188.0 302,200 C304.3,212.0 307.3,233.3 310,250 C312.7,266.7 314.7,278.3 318,300 C321.3,321.7 326.3,358.3 330,380 C333.7,401.7 335.8,416.7 340,430 C344.2,443.3 350.0,453.3 355,460 C360.0,466.7 367.5,468.3 370,470" transform="translate(320,15) scale(0.19231)" fill="none" stroke="#63a948" stroke-width="1.0" vector-effect="non-scaling-stroke" stroke-linejoin="round"/>
<path d="M190,470 C191.7,467.5 195.8,458.3 200,455 C204.2,451.7 209.2,451.7 215,450 C220.8,448.3 229.2,450.0 235,445 C240.8,440.0 245.5,430.8 250,420 C254.5,409.2 258.3,398.3 262,380 C265.7,361.7 269.0,331.7 272,310 C275.0,288.3 277.5,267.5 280,250 C282.5,232.5 284.5,211.7 287,205 C289.5,198.3 292.5,205.8 295,210 C297.5,214.2 299.5,224.2 302,230 C304.5,235.8 307.7,245.0 310,245 C312.3,245.0 314.0,237.5 316,230 C318.0,222.5 319.7,198.3 322,200 C324.3,201.7 327.0,220.0 330,240 C333.0,260.0 336.7,293.3 340,320 C343.3,346.7 346.3,378.3 350,400 C353.7,421.7 357.0,438.3 362,450 C367.0,461.7 377.0,466.7 380,470" transform="translate(320,15) scale(0.19231)" fill="none" stroke="#46689c" stroke-width="1.0" vector-effect="non-scaling-stroke" stroke-linejoin="round"/>
<path d="M200,470 C203.3,468.3 213.3,462.5 220,460 C226.7,457.5 234.2,458.3 240,455 C245.8,451.7 250.8,449.2 255,440 C259.2,430.8 261.7,416.7 265,400 C268.3,383.3 271.7,361.7 275,340 C278.3,318.3 281.7,291.7 285,270 C288.3,248.3 291.7,228.3 295,210 C298.3,191.7 302.0,174.2 305,160 C308.0,145.8 310.2,126.7 313,125 C315.8,123.3 319.2,140.8 322,150 C324.8,159.2 327.0,172.5 330,180 C333.0,187.5 336.7,181.7 340,195 C343.3,208.3 346.7,237.5 350,260 C353.3,282.5 356.3,306.7 360,330 C363.7,353.3 367.8,380.0 372,400 C376.2,420.0 380.3,438.7 385,450 C389.7,461.3 395.8,464.7 400,468 C404.2,471.3 408.3,469.7 410,470" transform="translate(320,15) scale(0.19231)" fill="none" stroke="#b32c47" stroke-width="1.0" vector-effect="non-scaling-stroke" stroke-linejoin="round"/>
<rect x="329.1" y="22.4" width="84.90" height="83.10" fill="none" stroke="#111" stroke-width="0.9"/>
<line x1="326.10" y1="105.50" x2="329.10" y2="105.50" stroke="#111" stroke-width="0.8"/>
<text transform="translate(324.30 108.00) scale(0.9 1)" x="0" y="0" font-size="7.0" text-anchor="end" fill="#1a1a1a" stroke="#1a1a1a" stroke-width="0.07" >0</text>
<line x1="326.10" y1="89.60" x2="329.10" y2="89.60" stroke="#111" stroke-width="0.8"/>
<text transform="translate(324.30 92.10) scale(0.9 1)" x="0" y="0" font-size="7.0" text-anchor="end" fill="#1a1a1a" stroke="#1a1a1a" stroke-width="0.07" >20</text>
<line x1="326.10" y1="73.70" x2="329.10" y2="73.70" stroke="#111" stroke-width="0.8"/>
<text transform="translate(324.30 76.20) scale(0.9 1)" x="0" y="0" font-size="7.0" text-anchor="end" fill="#1a1a1a" stroke="#1a1a1a" stroke-width="0.07" >40</text>
<line x1="326.10" y1="57.80" x2="329.10" y2="57.80" stroke="#111" stroke-width="0.8"/>
<text transform="translate(324.30 60.30) scale(0.9 1)" x="0" y="0" font-size="7.0" text-anchor="end" fill="#1a1a1a" stroke="#1a1a1a" stroke-width="0.07" >60</text>
<line x1="326.10" y1="41.90" x2="329.10" y2="41.90" stroke="#111" stroke-width="0.8"/>
<text transform="translate(324.30 44.40) scale(0.9 1)" x="0" y="0" font-size="7.0" text-anchor="end" fill="#1a1a1a" stroke="#1a1a1a" stroke-width="0.07" >80</text>
<line x1="326.10" y1="26.00" x2="329.10" y2="26.00" stroke="#111" stroke-width="0.8"/>
<text transform="translate(324.30 28.50) scale(0.9 1)" x="0" y="0" font-size="7.0" text-anchor="end" fill="#1a1a1a" stroke="#1a1a1a" stroke-width="0.07" >100</text>
<line x1="327.60" y1="102.32" x2="329.10" y2="102.32" stroke="#333" stroke-width="0.5"/>
<line x1="327.60" y1="99.14" x2="329.10" y2="99.14" stroke="#333" stroke-width="0.5"/>
<line x1="327.60" y1="95.96" x2="329.10" y2="95.96" stroke="#333" stroke-width="0.5"/>
<line x1="327.60" y1="92.78" x2="329.10" y2="92.78" stroke="#333" stroke-width="0.5"/>
<line x1="327.60" y1="86.42" x2="329.10" y2="86.42" stroke="#333" stroke-width="0.5"/>
<line x1="327.60" y1="83.24" x2="329.10" y2="83.24" stroke="#333" stroke-width="0.5"/>
<line x1="327.60" y1="80.06" x2="329.10" y2="80.06" stroke="#333" stroke-width="0.5"/>
<line x1="327.60" y1="76.88" x2="329.10" y2="76.88" stroke="#333" stroke-width="0.5"/>
<line x1="327.60" y1="70.52" x2="329.10" y2="70.52" stroke="#333" stroke-width="0.5"/>
<line x1="327.60" y1="67.34" x2="329.10" y2="67.34" stroke="#333" stroke-width="0.5"/>
<line x1="327.60" y1="64.16" x2="329.10" y2="64.16" stroke="#333" stroke-width="0.5"/>
<line x1="327.60" y1="60.98" x2="329.10" y2="60.98" stroke="#333" stroke-width="0.5"/>
<line x1="327.60" y1="54.62" x2="329.10" y2="54.62" stroke="#333" stroke-width="0.5"/>
<line x1="327.60" y1="51.44" x2="329.10" y2="51.44" stroke="#333" stroke-width="0.5"/>
<line x1="327.60" y1="48.26" x2="329.10" y2="48.26" stroke="#333" stroke-width="0.5"/>
<line x1="327.60" y1="45.08" x2="329.10" y2="45.08" stroke="#333" stroke-width="0.5"/>
<line x1="327.60" y1="38.72" x2="329.10" y2="38.72" stroke="#333" stroke-width="0.5"/>
<line x1="327.60" y1="35.54" x2="329.10" y2="35.54" stroke="#333" stroke-width="0.5"/>
<line x1="327.60" y1="32.36" x2="329.10" y2="32.36" stroke="#333" stroke-width="0.5"/>
<line x1="327.60" y1="29.18" x2="329.10" y2="29.18" stroke="#333" stroke-width="0.5"/>
<line x1="334.20" y1="105.50" x2="334.20" y2="107.70" stroke="#111" stroke-width="0.7"/>
<line x1="350.00" y1="105.50" x2="350.00" y2="107.70" stroke="#111" stroke-width="0.7"/>
<line x1="362.50" y1="105.50" x2="362.50" y2="107.70" stroke="#111" stroke-width="0.7"/>
<line x1="385.50" y1="105.50" x2="385.50" y2="107.70" stroke="#111" stroke-width="0.7"/>
<line x1="405.40" y1="105.50" x2="405.40" y2="107.70" stroke="#111" stroke-width="0.7"/>
<line x1="336.50" y1="105.50" x2="336.50" y2="107.10" stroke="#333" stroke-width="0.45"/>
<line x1="338.50" y1="105.50" x2="338.50" y2="107.10" stroke="#333" stroke-width="0.45"/>
<line x1="340.50" y1="105.50" x2="340.50" y2="107.10" stroke="#333" stroke-width="0.45"/>
<line x1="342.50" y1="105.50" x2="342.50" y2="107.10" stroke="#333" stroke-width="0.45"/>
<line x1="344.50" y1="105.50" x2="344.50" y2="107.10" stroke="#333" stroke-width="0.45"/>
<line x1="346.50" y1="105.50" x2="346.50" y2="107.10" stroke="#333" stroke-width="0.45"/>
<line x1="348.50" y1="105.50" x2="348.50" y2="107.10" stroke="#333" stroke-width="0.45"/>
<line x1="352.00" y1="105.50" x2="352.00" y2="107.10" stroke="#333" stroke-width="0.45"/>
<line x1="354.00" y1="105.50" x2="354.00" y2="107.10" stroke="#333" stroke-width="0.45"/>
<line x1="356.00" y1="105.50" x2="356.00" y2="107.10" stroke="#333" stroke-width="0.45"/>
<line x1="358.00" y1="105.50" x2="358.00" y2="107.10" stroke="#333" stroke-width="0.45"/>
<line x1="360.00" y1="105.50" x2="360.00" y2="107.10" stroke="#333" stroke-width="0.45"/>
<line x1="369.42" y1="105.50" x2="369.42" y2="107.10" stroke="#333" stroke-width="0.45"/>
<line x1="373.47" y1="105.50" x2="373.47" y2="107.10" stroke="#333" stroke-width="0.45"/>
<line x1="376.35" y1="105.50" x2="376.35" y2="107.10" stroke="#333" stroke-width="0.45"/>
<line x1="378.58" y1="105.50" x2="378.58" y2="107.10" stroke="#333" stroke-width="0.45"/>
<line x1="380.40" y1="105.50" x2="380.40" y2="107.10" stroke="#333" stroke-width="0.45"/>
<line x1="381.94" y1="105.50" x2="381.94" y2="107.10" stroke="#333" stroke-width="0.45"/>
<line x1="383.27" y1="105.50" x2="383.27" y2="107.10" stroke="#333" stroke-width="0.45"/>
<line x1="384.45" y1="105.50" x2="384.45" y2="107.10" stroke="#333" stroke-width="0.45"/>
<line x1="392.42" y1="105.50" x2="392.42" y2="107.10" stroke="#333" stroke-width="0.45"/>
<line x1="396.47" y1="105.50" x2="396.47" y2="107.10" stroke="#333" stroke-width="0.45"/>
<line x1="399.35" y1="105.50" x2="399.35" y2="107.10" stroke="#333" stroke-width="0.45"/>
<line x1="401.58" y1="105.50" x2="401.58" y2="107.10" stroke="#333" stroke-width="0.45"/>
<line x1="403.40" y1="105.50" x2="403.40" y2="107.10" stroke="#333" stroke-width="0.45"/>
<line x1="404.94" y1="105.50" x2="404.94" y2="107.10" stroke="#333" stroke-width="0.45"/>
<line x1="406.27" y1="105.50" x2="406.27" y2="107.10" stroke="#333" stroke-width="0.45"/>
<line x1="407.45" y1="105.50" x2="407.45" y2="107.10" stroke="#333" stroke-width="0.45"/>
<line x1="411.72" y1="105.50" x2="411.72" y2="107.10" stroke="#333" stroke-width="0.45"/>
<line x1="415.42" y1="105.50" x2="415.42" y2="107.10" stroke="#333" stroke-width="0.45"/>
<line x1="418.04" y1="105.50" x2="418.04" y2="107.10" stroke="#333" stroke-width="0.45"/>
<text transform="translate(335.0 117.20) scale(0.86 1)" x="0" y="0" font-size="6.4" fill="#222" text-anchor="middle">-10<tspan font-size="3.6" dy="-2.6">3</tspan></text>
<text transform="translate(350.60 117.20) scale(0.86 1)" x="0" y="0" font-size="6.4" text-anchor="middle" fill="#1a1a1a" stroke="#1a1a1a" stroke-width="0.07" >0</text>
<text transform="translate(361.60 117.20) scale(0.86 1)" x="0" y="0" font-size="6.4" fill="#222" text-anchor="middle">10<tspan font-size="3.6" dy="-2.6">3</tspan></text>
<text transform="translate(384.70 117.20) scale(0.86 1)" x="0" y="0" font-size="6.4" fill="#222" text-anchor="middle">10<tspan font-size="3.6" dy="-2.6">4</tspan></text>
<text transform="translate(404.60 117.20) scale(0.86 1)" x="0" y="0" font-size="6.4" fill="#222" text-anchor="middle">10<tspan font-size="3.6" dy="-2.6">5</tspan></text>
<circle cx="348.0" cy="105.50" r="1.1" fill="#111"/>
<text x="371.90" y="128.70" font-size="8.3" text-anchor="middle" fill="#1a1a1a" textLength="34.5" lengthAdjust="spacingAndGlyphs" stroke="#1a1a1a" stroke-width="0.12">TpoR-APC</text>
<g transform="translate(308.3,63.75) rotate(-90)"><text x="0" y="0" font-size="8.4" fill="#222" stroke="#222" stroke-width="0.2" text-anchor="middle" textLength="72.7" lengthAdjust="spacingAndGlyphs">Normalized to mode</text></g>
<text transform="translate(424.20 50.50) scale(0.95 1)" x="0" y="0" font-size="6.0" text-anchor="start" fill="#1a1a1a" stroke="#1a1a1a" stroke-width="0.07" >SAMPLE</text>
<rect x="424.9" y="53.60" width="4.1" height="4.1" fill="none" stroke="#63a948" stroke-width="0.75"/>
<text transform="translate(431.20 57.80) scale(0.92 1)" x="0" y="0" font-size="6.0" text-anchor="start" fill="#1a1a1a" stroke="#1a1a1a" stroke-width="0.07" >Ba/F3 TpoR WT CALR del52</text>
<rect x="424.9" y="61.60" width="4.1" height="4.1" fill="none" stroke="#46689c" stroke-width="0.75"/>
<text transform="translate(431.20 65.80) scale(0.92 1)" x="0" y="0" font-size="6.0" text-anchor="start" fill="#1a1a1a" stroke="#1a1a1a" stroke-width="0.07" >Ba/F3 TpoR WT CALR WT</text>
<rect x="424.9" y="69.60" width="4.1" height="4.1" fill="none" stroke="#b32c47" stroke-width="0.75"/>
<text transform="translate(431.20 73.80) scale(0.92 1)" x="0" y="0" font-size="6.0" text-anchor="start" fill="#1a1a1a" stroke="#1a1a1a" stroke-width="0.07" >Ba/F3 TpoR WT</text>
<rect x="424.9" y="77.60" width="4.1" height="4.1" fill="none" stroke="#71497f" stroke-width="0.75"/>
<text transform="translate(431.20 81.80) scale(0.92 1)" x="0" y="0" font-size="6.0" text-anchor="start" fill="#1a1a1a" stroke="#1a1a1a" stroke-width="0.07" >Ba/F3</text>
<path d="M145,450 C147.5,445.0 155.8,435.0 160,420 C164.2,405.0 166.7,390.0 170,360 C173.3,330.0 176.7,281.7 180,240 C183.3,198.3 187.3,138.0 190,110 C192.7,82.0 193.8,77.3 196,72 C198.2,66.7 200.7,73.3 203,78 C205.3,82.7 207.5,86.3 210,100 C212.5,113.7 215.3,133.3 218,160 C220.7,186.7 223.3,226.7 226,260 C228.7,293.3 231.3,333.3 234,360 C236.7,386.7 239.3,405.8 242,420 C244.7,434.2 247.0,440.0 250,445 C253.0,450.0 258.3,449.2 260,450" transform="translate(320,170) scale(0.19231)" fill="none" stroke="#71497f" stroke-width="1.0" vector-effect="non-scaling-stroke" stroke-linejoin="round"/>
<path d="M170,450 C172.5,448.3 180.0,444.2 185,440 C190.0,435.8 195.0,430.0 200,425 C205.0,420.0 210.0,414.2 215,410 C220.0,405.8 225.0,408.3 230,400 C235.0,391.7 240.8,376.7 245,360 C249.2,343.3 252.2,321.7 255,300 C257.8,278.3 259.8,248.3 262,230 C264.2,211.7 266.2,195.0 268,190 C269.8,185.0 271.0,205.0 273,200 C275.0,195.0 277.8,172.5 280,160 C282.2,147.5 284.3,132.0 286,125 C287.7,118.0 288.5,115.5 290,118 C291.5,120.5 293.3,126.3 295,140 C296.7,153.7 297.8,187.5 300,200 C302.2,212.5 305.5,205.0 308,215 C310.5,225.0 312.7,242.5 315,260 C317.3,277.5 319.5,301.7 322,320 C324.5,338.3 327.0,355.0 330,370 C333.0,385.0 336.3,399.2 340,410 C343.7,420.8 347.8,428.7 352,435 C356.2,441.3 361.2,445.5 365,448 C368.8,450.5 373.3,449.7 375,450" transform="translate(320,170) scale(0.19231)" fill="none" stroke="#63a948" stroke-width="1.0" vector-effect="non-scaling-stroke" stroke-linejoin="round"/>
<path d="M175,450 C177.5,445.0 185.8,438.3 190,420 C194.2,401.7 197.2,371.7 200,340 C202.8,308.3 205.2,260.0 207,230 C208.8,200.0 209.7,174.3 211,160 C212.3,145.7 213.2,146.3 215,144 C216.8,141.7 219.7,145.8 222,146 C224.3,146.2 227.2,144.0 229,145 C230.8,146.0 231.5,142.8 233,152 C234.5,161.2 236.0,177.0 238,200 C240.0,223.0 242.2,263.3 245,290 C247.8,316.7 251.7,341.7 255,360 C258.3,378.3 260.8,388.3 265,400 C269.2,411.7 275.0,422.0 280,430 C285.0,438.0 290.8,444.7 295,448 C299.2,451.3 303.3,449.7 305,450" transform="translate(320,170) scale(0.19231)" fill="none" stroke="#46689c" stroke-width="1.0" vector-effect="non-scaling-stroke" stroke-linejoin="round"/>
<path d="M160,450 C163.3,446.7 174.2,448.3 180,430 C185.8,411.7 190.8,373.3 195,340 C199.2,306.7 202.2,266.7 205,230 C207.8,193.3 210.0,143.7 212,120 C214.0,96.3 214.8,93.8 217,88 C219.2,82.2 222.5,81.3 225,85 C227.5,88.7 229.5,90.8 232,110 C234.5,129.2 237.0,170.0 240,200 C243.0,230.0 246.3,266.7 250,290 C253.7,313.3 257.8,326.7 262,340 C266.2,353.3 270.3,360.0 275,370 C279.7,380.0 285.0,391.7 290,400 C295.0,408.3 300.0,414.2 305,420 C310.0,425.8 315.0,430.5 320,435 C325.0,439.5 330.8,444.5 335,447 C339.2,449.5 343.3,449.5 345,450" transform="translate(320,170) scale(0.19231)" fill="none" stroke="#b32c47" stroke-width="1.0" vector-effect="non-scaling-stroke" stroke-linejoin="round"/>
<rect x="329.1" y="176.7" width="84.70" height="79.80" fill="none" stroke="#111" stroke-width="0.9"/>
<line x1="326.10" y1="256.50" x2="329.10" y2="256.50" stroke="#111" stroke-width="0.8"/>
<text transform="translate(324.30 259.00) scale(0.9 1)" x="0" y="0" font-size="7.0" text-anchor="end" fill="#1a1a1a" stroke="#1a1a1a" stroke-width="0.07" >0</text>
<line x1="326.10" y1="241.32" x2="329.10" y2="241.32" stroke="#111" stroke-width="0.8"/>
<text transform="translate(324.30 243.82) scale(0.9 1)" x="0" y="0" font-size="7.0" text-anchor="end" fill="#1a1a1a" stroke="#1a1a1a" stroke-width="0.07" >20</text>
<line x1="326.10" y1="226.14" x2="329.10" y2="226.14" stroke="#111" stroke-width="0.8"/>
<text transform="translate(324.30 228.64) scale(0.9 1)" x="0" y="0" font-size="7.0" text-anchor="end" fill="#1a1a1a" stroke="#1a1a1a" stroke-width="0.07" >40</text>
<line x1="326.10" y1="210.96" x2="329.10" y2="210.96" stroke="#111" stroke-width="0.8"/>
<text transform="translate(324.30 213.46) scale(0.9 1)" x="0" y="0" font-size="7.0" text-anchor="end" fill="#1a1a1a" stroke="#1a1a1a" stroke-width="0.07" >60</text>
<line x1="326.10" y1="195.78" x2="329.10" y2="195.78" stroke="#111" stroke-width="0.8"/>
<text transform="translate(324.30 198.28) scale(0.9 1)" x="0" y="0" font-size="7.0" text-anchor="end" fill="#1a1a1a" stroke="#1a1a1a" stroke-width="0.07" >80</text>
<line x1="326.10" y1="180.60" x2="329.10" y2="180.60" stroke="#111" stroke-width="0.8"/>
<text transform="translate(324.30 183.10) scale(0.9 1)" x="0" y="0" font-size="7.0" text-anchor="end" fill="#1a1a1a" stroke="#1a1a1a" stroke-width="0.07" >100</text>
<line x1="327.60" y1="253.46" x2="329.10" y2="253.46" stroke="#333" stroke-width="0.5"/>
<line x1="327.60" y1="250.43" x2="329.10" y2="250.43" stroke="#333" stroke-width="0.5"/>
<line x1="327.60" y1="247.39" x2="329.10" y2="247.39" stroke="#333" stroke-width="0.5"/>
<line x1="327.60" y1="244.36" x2="329.10" y2="244.36" stroke="#333" stroke-width="0.5"/>
<line x1="327.60" y1="238.28" x2="329.10" y2="238.28" stroke="#333" stroke-width="0.5"/>
<line x1="327.60" y1="235.25" x2="329.10" y2="235.25" stroke="#333" stroke-width="0.5"/>
<line x1="327.60" y1="232.21" x2="329.10" y2="232.21" stroke="#333" stroke-width="0.5"/>
<line x1="327.60" y1="229.18" x2="329.10" y2="229.18" stroke="#333" stroke-width="0.5"/>
<line x1="327.60" y1="223.10" x2="329.10" y2="223.10" stroke="#333" stroke-width="0.5"/>
<line x1="327.60" y1="220.07" x2="329.10" y2="220.07" stroke="#333" stroke-width="0.5"/>
<line x1="327.60" y1="217.03" x2="329.10" y2="217.03" stroke="#333" stroke-width="0.5"/>
<line x1="327.60" y1="214.00" x2="329.10" y2="214.00" stroke="#333" stroke-width="0.5"/>
<line x1="327.60" y1="207.92" x2="329.10" y2="207.92" stroke="#333" stroke-width="0.5"/>
<line x1="327.60" y1="204.89" x2="329.10" y2="204.89" stroke="#333" stroke-width="0.5"/>
<line x1="327.60" y1="201.85" x2="329.10" y2="201.85" stroke="#333" stroke-width="0.5"/>
<line x1="327.60" y1="198.82" x2="329.10" y2="198.82" stroke="#333" stroke-width="0.5"/>
<line x1="327.60" y1="192.74" x2="329.10" y2="192.74" stroke="#333" stroke-width="0.5"/>
<line x1="327.60" y1="189.71" x2="329.10" y2="189.71" stroke="#333" stroke-width="0.5"/>
<line x1="327.60" y1="186.67" x2="329.10" y2="186.67" stroke="#333" stroke-width="0.5"/>
<line x1="327.60" y1="183.64" x2="329.10" y2="183.64" stroke="#333" stroke-width="0.5"/>
<line x1="334.20" y1="256.50" x2="334.20" y2="258.70" stroke="#111" stroke-width="0.7"/>
<line x1="350.00" y1="256.50" x2="350.00" y2="258.70" stroke="#111" stroke-width="0.7"/>
<line x1="362.50" y1="256.50" x2="362.50" y2="258.70" stroke="#111" stroke-width="0.7"/>
<line x1="385.50" y1="256.50" x2="385.50" y2="258.70" stroke="#111" stroke-width="0.7"/>
<line x1="405.40" y1="256.50" x2="405.40" y2="258.70" stroke="#111" stroke-width="0.7"/>
<line x1="336.50" y1="256.50" x2="336.50" y2="258.10" stroke="#333" stroke-width="0.45"/>
<line x1="338.50" y1="256.50" x2="338.50" y2="258.10" stroke="#333" stroke-width="0.45"/>
<line x1="340.50" y1="256.50" x2="340.50" y2="258.10" stroke="#333" stroke-width="0.45"/>
<line x1="342.50" y1="256.50" x2="342.50" y2="258.10" stroke="#333" stroke-width="0.45"/>
<line x1="344.50" y1="256.50" x2="344.50" y2="258.10" stroke="#333" stroke-width="0.45"/>
<line x1="346.50" y1="256.50" x2="346.50" y2="258.10" stroke="#333" stroke-width="0.45"/>
<line x1="348.50" y1="256.50" x2="348.50" y2="258.10" stroke="#333" stroke-width="0.45"/>
<line x1="352.00" y1="256.50" x2="352.00" y2="258.10" stroke="#333" stroke-width="0.45"/>
<line x1="354.00" y1="256.50" x2="354.00" y2="258.10" stroke="#333" stroke-width="0.45"/>
<line x1="356.00" y1="256.50" x2="356.00" y2="258.10" stroke="#333" stroke-width="0.45"/>
<line x1="358.00" y1="256.50" x2="358.00" y2="258.10" stroke="#333" stroke-width="0.45"/>
<line x1="360.00" y1="256.50" x2="360.00" y2="258.10" stroke="#333" stroke-width="0.45"/>
<line x1="369.42" y1="256.50" x2="369.42" y2="258.10" stroke="#333" stroke-width="0.45"/>
<line x1="373.47" y1="256.50" x2="373.47" y2="258.10" stroke="#333" stroke-width="0.45"/>
<line x1="376.35" y1="256.50" x2="376.35" y2="258.10" stroke="#333" stroke-width="0.45"/>
<line x1="378.58" y1="256.50" x2="378.58" y2="258.10" stroke="#333" stroke-width="0.45"/>
<line x1="380.40" y1="256.50" x2="380.40" y2="258.10" stroke="#333" stroke-width="0.45"/>
<line x1="381.94" y1="256.50" x2="381.94" y2="258.10" stroke="#333" stroke-width="0.45"/>
<line x1="383.27" y1="256.50" x2="383.27" y2="258.10" stroke="#333" stroke-width="0.45"/>
<line x1="384.45" y1="256.50" x2="384.45" y2="258.10" stroke="#333" stroke-width="0.45"/>
<line x1="392.42" y1="256.50" x2="392.42" y2="258.10" stroke="#333" stroke-width="0.45"/>
<line x1="396.47" y1="256.50" x2="396.47" y2="258.10" stroke="#333" stroke-width="0.45"/>
<line x1="399.35" y1="256.50" x2="399.35" y2="258.10" stroke="#333" stroke-width="0.45"/>
<line x1="401.58" y1="256.50" x2="401.58" y2="258.10" stroke="#333" stroke-width="0.45"/>
<line x1="403.40" y1="256.50" x2="403.40" y2="258.10" stroke="#333" stroke-width="0.45"/>
<line x1="404.94" y1="256.50" x2="404.94" y2="258.10" stroke="#333" stroke-width="0.45"/>
<line x1="406.27" y1="256.50" x2="406.27" y2="258.10" stroke="#333" stroke-width="0.45"/>
<line x1="407.45" y1="256.50" x2="407.45" y2="258.10" stroke="#333" stroke-width="0.45"/>
<line x1="411.72" y1="256.50" x2="411.72" y2="258.10" stroke="#333" stroke-width="0.45"/>
<line x1="415.42" y1="256.50" x2="415.42" y2="258.10" stroke="#333" stroke-width="0.45"/>
<line x1="418.04" y1="256.50" x2="418.04" y2="258.10" stroke="#333" stroke-width="0.45"/>
<text transform="translate(335.0 268.60) scale(0.86 1)" x="0" y="0" font-size="6.4" fill="#222" text-anchor="middle">-10<tspan font-size="3.6" dy="-2.6">3</tspan></text>
<text transform="translate(350.60 268.60) scale(0.86 1)" x="0" y="0" font-size="6.4" text-anchor="middle" fill="#1a1a1a" stroke="#1a1a1a" stroke-width="0.07" >0</text>
<text transform="translate(361.60 268.60) scale(0.86 1)" x="0" y="0" font-size="6.4" fill="#222" text-anchor="middle">10<tspan font-size="3.6" dy="-2.6">3</tspan></text>
<text transform="translate(384.70 268.60) scale(0.86 1)" x="0" y="0" font-size="6.4" fill="#222" text-anchor="middle">10<tspan font-size="3.6" dy="-2.6">4</tspan></text>
<text transform="translate(404.60 268.60) scale(0.86 1)" x="0" y="0" font-size="6.4" fill="#222" text-anchor="middle">10<tspan font-size="3.6" dy="-2.6">5</tspan></text>
<circle cx="348.0" cy="256.50" r="1.1" fill="#111"/>
<text x="371.90" y="280.30" font-size="8.3" text-anchor="middle" fill="#1a1a1a" textLength="34.5" lengthAdjust="spacingAndGlyphs" stroke="#1a1a1a" stroke-width="0.12">TpoR-APC</text>
<g transform="translate(308.3,216.80) rotate(-90)"><text x="0" y="0" font-size="8.4" fill="#222" stroke="#222" stroke-width="0.2" text-anchor="middle" textLength="72.4" lengthAdjust="spacingAndGlyphs">Normalized to mode</text></g>
<text transform="translate(424.20 203.50) scale(0.95 1)" x="0" y="0" font-size="6.0" text-anchor="start" fill="#1a1a1a" stroke="#1a1a1a" stroke-width="0.07" >SAMPLE</text>
<rect x="424.9" y="207.20" width="4.1" height="4.1" fill="none" stroke="#63a948" stroke-width="0.75"/>
<text transform="translate(431.20 211.40) scale(0.92 1)" x="0" y="0" font-size="6.0" text-anchor="start" fill="#1a1a1a" stroke="#1a1a1a" stroke-width="0.07" >Ba/F3 TpoR RT1 CALR del52</text>
<rect x="424.9" y="214.80" width="4.1" height="4.1" fill="none" stroke="#46689c" stroke-width="0.75"/>
<text transform="translate(431.20 219.00) scale(0.92 1)" x="0" y="0" font-size="6.0" text-anchor="start" fill="#1a1a1a" stroke="#1a1a1a" stroke-width="0.07" >Ba/F3 TpoR RT1 CALR WT</text>
<rect x="424.9" y="222.40" width="4.1" height="4.1" fill="none" stroke="#b32c47" stroke-width="0.75"/>
<text transform="translate(431.20 226.60) scale(0.92 1)" x="0" y="0" font-size="6.0" text-anchor="start" fill="#1a1a1a" stroke="#1a1a1a" stroke-width="0.07" >Ba/F3 TpoR RT1</text>
<rect x="424.9" y="230.00" width="4.1" height="4.1" fill="none" stroke="#71497f" stroke-width="0.75"/>
<text transform="translate(431.20 234.20) scale(0.92 1)" x="0" y="0" font-size="6.0" text-anchor="start" fill="#1a1a1a" stroke="#1a1a1a" stroke-width="0.07" >Ba/F3</text>
<path d="M145,485 C147.5,480.8 155.8,474.2 160,460 C164.2,445.8 166.7,430.0 170,400 C173.3,370.0 176.7,323.3 180,280 C183.3,236.7 187.3,173.3 190,140 C192.7,106.7 193.8,89.2 196,80 C198.2,70.8 200.7,81.7 203,85 C205.3,88.3 207.5,85.8 210,100 C212.5,114.2 215.3,140.0 218,170 C220.7,200.0 223.3,245.0 226,280 C228.7,315.0 231.3,353.3 234,380 C236.7,406.7 239.3,424.2 242,440 C244.7,455.8 247.0,467.5 250,475 C253.0,482.5 258.3,483.3 260,485" transform="translate(320,320) scale(0.19231)" fill="none" stroke="#71497f" stroke-width="1.0" vector-effect="non-scaling-stroke" stroke-linejoin="round"/>
<path d="M170,485 C172.5,482.5 180.0,475.0 185,470 C190.0,465.0 195.0,460.0 200,455 C205.0,450.0 210.8,446.7 215,440 C219.2,433.3 222.2,420.0 225,415 C227.8,410.0 229.5,409.2 232,410 C234.5,410.8 237.0,419.2 240,420 C243.0,420.8 246.7,420.0 250,415 C253.3,410.0 257.0,399.2 260,390 C263.0,380.8 265.5,368.3 268,360 C270.5,351.7 272.5,347.0 275,340 C277.5,333.0 280.5,322.2 283,318 C285.5,313.8 287.7,313.0 290,315 C292.3,317.0 294.5,329.2 297,330 C299.5,330.8 302.5,324.2 305,320 C307.5,315.8 309.8,305.0 312,305 C314.2,305.0 315.8,308.3 318,320 C320.2,331.7 322.2,361.7 325,375 C327.8,388.3 331.7,392.5 335,400 C338.3,407.5 341.7,411.7 345,420 C348.3,428.3 351.7,440.8 355,450 C358.3,459.2 361.2,469.2 365,475 C368.8,480.8 375.8,483.3 378,485" transform="translate(320,320) scale(0.19231)" fill="none" stroke="#63a948" stroke-width="1.0" vector-effect="non-scaling-stroke" stroke-linejoin="round"/>
<path d="M170,485 C172.5,482.5 180.0,479.2 185,470 C190.0,460.8 195.8,446.7 200,430 C204.2,413.3 206.7,393.3 210,370 C213.3,346.7 217.0,315.0 220,290 C223.0,265.0 225.5,237.5 228,220 C230.5,202.5 232.7,190.0 235,185 C237.3,180.0 239.8,191.2 242,190 C244.2,188.8 246.2,176.3 248,178 C249.8,179.7 251.0,186.3 253,200 C255.0,213.7 257.5,238.3 260,260 C262.5,281.7 265.0,306.7 268,330 C271.0,353.3 274.3,380.0 278,400 C281.7,420.0 286.3,437.5 290,450 C293.7,462.5 296.7,469.2 300,475 C303.3,480.8 308.3,483.3 310,485" transform="translate(320,320) scale(0.19231)" fill="none" stroke="#46689c" stroke-width="1.0" vector-effect="non-scaling-stroke" stroke-linejoin="round"/>
<path d="M170,485 C172.5,480.8 180.0,474.2 185,460 C190.0,445.8 195.5,423.3 200,400 C204.5,376.7 208.3,348.3 212,320 C215.7,291.7 219.0,256.7 222,230 C225.0,203.3 227.5,180.0 230,160 C232.5,140.0 235.2,121.3 237,110 C238.8,98.7 239.5,92.0 241,92 C242.5,92.0 244.2,103.7 246,110 C247.8,116.3 250.0,128.7 252,130 C254.0,131.3 256.3,118.8 258,118 C259.7,117.2 260.3,111.3 262,125 C263.7,138.7 265.8,174.2 268,200 C270.2,225.8 272.2,253.3 275,280 C277.8,306.7 281.7,336.7 285,360 C288.3,383.3 291.7,403.3 295,420 C298.3,436.7 301.7,450.3 305,460 C308.3,469.7 311.7,473.8 315,478 C318.3,482.2 323.3,483.8 325,485" transform="translate(320,320) scale(0.19231)" fill="none" stroke="#b32c47" stroke-width="1.0" vector-effect="non-scaling-stroke" stroke-linejoin="round"/>
<rect x="329.1" y="328.0" width="86.00" height="85.00" fill="none" stroke="#111" stroke-width="0.9"/>
<line x1="326.10" y1="413.00" x2="329.10" y2="413.00" stroke="#111" stroke-width="0.8"/>
<text transform="translate(324.30 415.50) scale(0.9 1)" x="0" y="0" font-size="7.0" text-anchor="end" fill="#1a1a1a" stroke="#1a1a1a" stroke-width="0.07" >0</text>
<line x1="326.10" y1="396.82" x2="329.10" y2="396.82" stroke="#111" stroke-width="0.8"/>
<text transform="translate(324.30 399.32) scale(0.9 1)" x="0" y="0" font-size="7.0" text-anchor="end" fill="#1a1a1a" stroke="#1a1a1a" stroke-width="0.07" >20</text>
<line x1="326.10" y1="380.64" x2="329.10" y2="380.64" stroke="#111" stroke-width="0.8"/>
<text transform="translate(324.30 383.14) scale(0.9 1)" x="0" y="0" font-size="7.0" text-anchor="end" fill="#1a1a1a" stroke="#1a1a1a" stroke-width="0.07" >40</text>
<line x1="326.10" y1="364.46" x2="329.10" y2="364.46" stroke="#111" stroke-width="0.8"/>
<text transform="translate(324.30 366.96) scale(0.9 1)" x="0" y="0" font-size="7.0" text-anchor="end" fill="#1a1a1a" stroke="#1a1a1a" stroke-width="0.07" >60</text>
<line x1="326.10" y1="348.28" x2="329.10" y2="348.28" stroke="#111" stroke-width="0.8"/>
<text transform="translate(324.30 350.78) scale(0.9 1)" x="0" y="0" font-size="7.0" text-anchor="end" fill="#1a1a1a" stroke="#1a1a1a" stroke-width="0.07" >80</text>
<line x1="326.10" y1="332.10" x2="329.10" y2="332.10" stroke="#111" stroke-width="0.8"/>
<text transform="translate(324.30 334.60) scale(0.9 1)" x="0" y="0" font-size="7.0" text-anchor="end" fill="#1a1a1a" stroke="#1a1a1a" stroke-width="0.07" >100</text>
<line x1="327.60" y1="409.76" x2="329.10" y2="409.76" stroke="#333" stroke-width="0.5"/>
<line x1="327.60" y1="406.53" x2="329.10" y2="406.53" stroke="#333" stroke-width="0.5"/>
<line x1="327.60" y1="403.29" x2="329.10" y2="403.29" stroke="#333" stroke-width="0.5"/>
<line x1="327.60" y1="400.06" x2="329.10" y2="400.06" stroke="#333" stroke-width="0.5"/>
<line x1="327.60" y1="393.58" x2="329.10" y2="393.58" stroke="#333" stroke-width="0.5"/>
<line x1="327.60" y1="390.35" x2="329.10" y2="390.35" stroke="#333" stroke-width="0.5"/>
<line x1="327.60" y1="387.11" x2="329.10" y2="387.11" stroke="#333" stroke-width="0.5"/>
<line x1="327.60" y1="383.88" x2="329.10" y2="383.88" stroke="#333" stroke-width="0.5"/>
<line x1="327.60" y1="377.40" x2="329.10" y2="377.40" stroke="#333" stroke-width="0.5"/>
<line x1="327.60" y1="374.17" x2="329.10" y2="374.17" stroke="#333" stroke-width="0.5"/>
<line x1="327.60" y1="370.93" x2="329.10" y2="370.93" stroke="#333" stroke-width="0.5"/>
<line x1="327.60" y1="367.70" x2="329.10" y2="367.70" stroke="#333" stroke-width="0.5"/>
<line x1="327.60" y1="361.22" x2="329.10" y2="361.22" stroke="#333" stroke-width="0.5"/>
<line x1="327.60" y1="357.99" x2="329.10" y2="357.99" stroke="#333" stroke-width="0.5"/>
<line x1="327.60" y1="354.75" x2="329.10" y2="354.75" stroke="#333" stroke-width="0.5"/>
<line x1="327.60" y1="351.52" x2="329.10" y2="351.52" stroke="#333" stroke-width="0.5"/>
<line x1="327.60" y1="345.04" x2="329.10" y2="345.04" stroke="#333" stroke-width="0.5"/>
<line x1="327.60" y1="341.81" x2="329.10" y2="341.81" stroke="#333" stroke-width="0.5"/>
<line x1="327.60" y1="338.57" x2="329.10" y2="338.57" stroke="#333" stroke-width="0.5"/>
<line x1="327.60" y1="335.34" x2="329.10" y2="335.34" stroke="#333" stroke-width="0.5"/>
<line x1="334.20" y1="413.00" x2="334.20" y2="415.20" stroke="#111" stroke-width="0.7"/>
<line x1="350.00" y1="413.00" x2="350.00" y2="415.20" stroke="#111" stroke-width="0.7"/>
<line x1="362.50" y1="413.00" x2="362.50" y2="415.20" stroke="#111" stroke-width="0.7"/>
<line x1="385.50" y1="413.00" x2="385.50" y2="415.20" stroke="#111" stroke-width="0.7"/>
<line x1="405.40" y1="413.00" x2="405.40" y2="415.20" stroke="#111" stroke-width="0.7"/>
<line x1="336.50" y1="413.00" x2="336.50" y2="414.60" stroke="#333" stroke-width="0.45"/>
<line x1="338.50" y1="413.00" x2="338.50" y2="414.60" stroke="#333" stroke-width="0.45"/>
<line x1="340.50" y1="413.00" x2="340.50" y2="414.60" stroke="#333" stroke-width="0.45"/>
<line x1="342.50" y1="413.00" x2="342.50" y2="414.60" stroke="#333" stroke-width="0.45"/>
<line x1="344.50" y1="413.00" x2="344.50" y2="414.60" stroke="#333" stroke-width="0.45"/>
<line x1="346.50" y1="413.00" x2="346.50" y2="414.60" stroke="#333" stroke-width="0.45"/>
<line x1="348.50" y1="413.00" x2="348.50" y2="414.60" stroke="#333" stroke-width="0.45"/>
<line x1="352.00" y1="413.00" x2="352.00" y2="414.60" stroke="#333" stroke-width="0.45"/>
<line x1="354.00" y1="413.00" x2="354.00" y2="414.60" stroke="#333" stroke-width="0.45"/>
<line x1="356.00" y1="413.00" x2="356.00" y2="414.60" stroke="#333" stroke-width="0.45"/>
<line x1="358.00" y1="413.00" x2="358.00" y2="414.60" stroke="#333" stroke-width="0.45"/>
<line x1="360.00" y1="413.00" x2="360.00" y2="414.60" stroke="#333" stroke-width="0.45"/>
<line x1="369.42" y1="413.00" x2="369.42" y2="414.60" stroke="#333" stroke-width="0.45"/>
<line x1="373.47" y1="413.00" x2="373.47" y2="414.60" stroke="#333" stroke-width="0.45"/>
<line x1="376.35" y1="413.00" x2="376.35" y2="414.60" stroke="#333" stroke-width="0.45"/>
<line x1="378.58" y1="413.00" x2="378.58" y2="414.60" stroke="#333" stroke-width="0.45"/>
<line x1="380.40" y1="413.00" x2="380.40" y2="414.60" stroke="#333" stroke-width="0.45"/>
<line x1="381.94" y1="413.00" x2="381.94" y2="414.60" stroke="#333" stroke-width="0.45"/>
<line x1="383.27" y1="413.00" x2="383.27" y2="414.60" stroke="#333" stroke-width="0.45"/>
<line x1="384.45" y1="413.00" x2="384.45" y2="414.60" stroke="#333" stroke-width="0.45"/>
<line x1="392.42" y1="413.00" x2="392.42" y2="414.60" stroke="#333" stroke-width="0.45"/>
<line x1="396.47" y1="413.00" x2="396.47" y2="414.60" stroke="#333" stroke-width="0.45"/>
<line x1="399.35" y1="413.00" x2="399.35" y2="414.60" stroke="#333" stroke-width="0.45"/>
<line x1="401.58" y1="413.00" x2="401.58" y2="414.60" stroke="#333" stroke-width="0.45"/>
<line x1="403.40" y1="413.00" x2="403.40" y2="414.60" stroke="#333" stroke-width="0.45"/>
<line x1="404.94" y1="413.00" x2="404.94" y2="414.60" stroke="#333" stroke-width="0.45"/>
<line x1="406.27" y1="413.00" x2="406.27" y2="414.60" stroke="#333" stroke-width="0.45"/>
<line x1="407.45" y1="413.00" x2="407.45" y2="414.60" stroke="#333" stroke-width="0.45"/>
<line x1="411.72" y1="413.00" x2="411.72" y2="414.60" stroke="#333" stroke-width="0.45"/>
<line x1="415.42" y1="413.00" x2="415.42" y2="414.60" stroke="#333" stroke-width="0.45"/>
<line x1="418.04" y1="413.00" x2="418.04" y2="414.60" stroke="#333" stroke-width="0.45"/>
<text transform="translate(335.0 425.10) scale(0.86 1)" x="0" y="0" font-size="6.4" fill="#222" text-anchor="middle">-10<tspan font-size="3.6" dy="-2.6">3</tspan></text>
<text transform="translate(350.60 425.10) scale(0.86 1)" x="0" y="0" font-size="6.4" text-anchor="middle" fill="#1a1a1a" stroke="#1a1a1a" stroke-width="0.07" >0</text>
<text transform="translate(361.60 425.10) scale(0.86 1)" x="0" y="0" font-size="6.4" fill="#222" text-anchor="middle">10<tspan font-size="3.6" dy="-2.6">3</tspan></text>
<text transform="translate(384.70 425.10) scale(0.86 1)" x="0" y="0" font-size="6.4" fill="#222" text-anchor="middle">10<tspan font-size="3.6" dy="-2.6">4</tspan></text>
<text transform="translate(404.60 425.10) scale(0.86 1)" x="0" y="0" font-size="6.4" fill="#222" text-anchor="middle">10<tspan font-size="3.6" dy="-2.6">5</tspan></text>
<circle cx="348.0" cy="413.00" r="1.1" fill="#111"/>
<text x="371.90" y="436.80" font-size="8.3" text-anchor="middle" fill="#1a1a1a" textLength="34.5" lengthAdjust="spacingAndGlyphs" stroke="#1a1a1a" stroke-width="0.12">TpoR-APC</text>
<g transform="translate(308.3,370.95) rotate(-90)"><text x="0" y="0" font-size="8.4" fill="#222" stroke="#222" stroke-width="0.2" text-anchor="middle" textLength="71.9" lengthAdjust="spacingAndGlyphs">Normalized to mode</text></g>
<text transform="translate(424.20 356.40) scale(0.95 1)" x="0" y="0" font-size="6.0" text-anchor="start" fill="#1a1a1a" stroke="#1a1a1a" stroke-width="0.07" >SAMPLE</text>
<rect x="424.9" y="360.70" width="4.1" height="4.1" fill="none" stroke="#63a948" stroke-width="0.75"/>
<text transform="translate(431.20 364.90) scale(0.92 1)" x="0" y="0" font-size="6.0" text-anchor="start" fill="#1a1a1a" stroke="#1a1a1a" stroke-width="0.07" >Ba/F3 TpoR RT2 CALR del52</text>
<rect x="424.9" y="368.50" width="4.1" height="4.1" fill="none" stroke="#46689c" stroke-width="0.75"/>
<text transform="translate(431.20 372.70) scale(0.92 1)" x="0" y="0" font-size="6.0" text-anchor="start" fill="#1a1a1a" stroke="#1a1a1a" stroke-width="0.07" >Ba/F3 TpoR RT2 CALR WT</text>
<rect x="424.9" y="376.30" width="4.1" height="4.1" fill="none" stroke="#b32c47" stroke-width="0.75"/>
<text transform="translate(431.20 380.50) scale(0.92 1)" x="0" y="0" font-size="6.0" text-anchor="start" fill="#1a1a1a" stroke="#1a1a1a" stroke-width="0.07" >Ba/F3 TpoR RT2</text>
<rect x="424.9" y="384.10" width="4.1" height="4.1" fill="none" stroke="#71497f" stroke-width="0.75"/>
<text transform="translate(431.20 388.30) scale(0.92 1)" x="0" y="0" font-size="6.0" text-anchor="start" fill="#1a1a1a" stroke="#1a1a1a" stroke-width="0.07" >Ba/F3</text>
<rect x="0.5" y="0.5" width="519" height="535" fill="none" stroke="#111" stroke-width="1"/>
<line x1="0" y1="535" x2="520" y2="535" stroke="#4a4a4a" stroke-width="2"/>
<line x1="0.8" y1="0" x2="0.8" y2="536" stroke="#3d3d3d" stroke-width="1.6"/>
</svg></body></html>
